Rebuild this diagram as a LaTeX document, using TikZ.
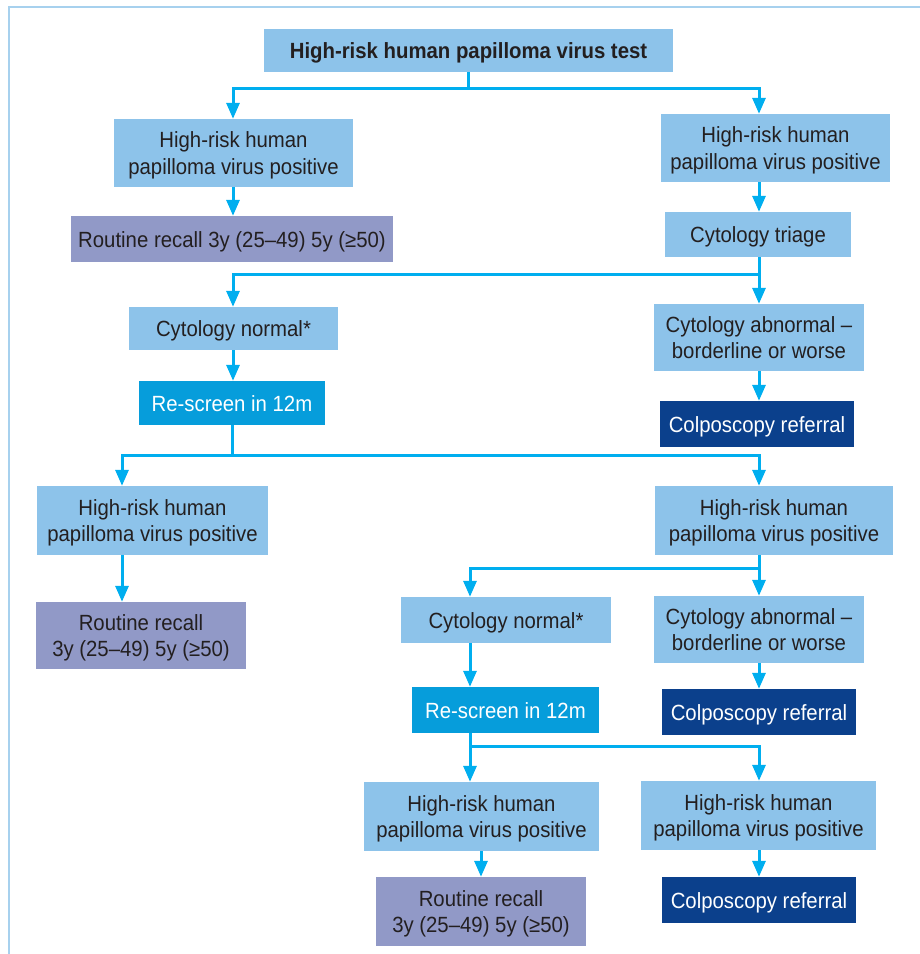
\documentclass[tikz,border=0pt]{standalone}
\usepackage{fontspec}
\setmainfont{Liberation Sans}[FakeStretch=0.925]
\usetikzlibrary{arrows.meta}
\definecolor{lightbox}{HTML}{8DC3EA}
\definecolor{recallbox}{HTML}{9199C7}
\definecolor{rescreenbox}{HTML}{069DDB}
\definecolor{colpobox}{HTML}{0B408C}
\definecolor{connc}{HTML}{00AEEF}
\definecolor{framec}{HTML}{A7D1EE}
\definecolor{txt}{HTML}{231F20}
\newcommand{\mkbox}[7]{\node[#1, minimum width={#4-#3}, minimum height={#6-#5}] (#2) at ({(#3+#4)/2},{(#5+#6)/2}) {\raisebox{-8.1pt}[0pt][0pt]{\begin{tabular}{@{}c@{}}#7\end{tabular}}};}
\begin{document}
\begin{tikzpicture}[x=1pt,y=-1pt,
  basebox/.style={inner sep=0pt, font=\fontsize{22}{26.5}\selectfont},
  hpvbox/.style={basebox, fill=lightbox, text=txt},
  topbox/.style={hpvbox, font=\fontsize{22}{26.5}\selectfont\bfseries},
  recall/.style={basebox, fill=recallbox, text=txt},
  rescreen/.style={basebox, fill=rescreenbox, text=white},
  colpo/.style={basebox, fill=colpobox, text=white},
  cn/.style={draw=connc, line width=3pt},
  ar/.style={cn, -{Triangle[width=13pt,length=16pt]}}]
\useasboundingbox (0,0) rectangle (920,954);
\draw[framec, line width=2pt] (921,7) -- (9,7) -- (9,955);

% boxes
\mkbox{topbox}{top}{264}{673}{29}{72}{High-risk human papilloma virus test}
\mkbox{hpvbox}{L1}{114}{353}{119}{187}{High-risk human\\papilloma virus positive}
\mkbox{hpvbox}{R1}{661}{890}{114}{182}{High-risk human\\papilloma virus positive}
\mkbox{recall}{RR1}{71}{393}{216}{262}{Routine recall 3y (25–49) 5y (≥50)}
\mkbox{hpvbox}{CT}{665}{851}{212}{257}{Cytology triage}
\mkbox{hpvbox}{CN1}{129}{338}{307}{350}{Cytology normal*}
\mkbox{hpvbox}{CA1}{654}{864}{304}{371}{Cytology abnormal –\\borderline or worse}
\mkbox{rescreen}{RS1}{139}{325}{381}{425}{Re-screen in 12m}
\mkbox{colpo}{CR1}{660}{854}{401}{447}{Colposcopy referral}
\mkbox{hpvbox}{L2}{37}{268}{486}{555}{High-risk human\\papilloma virus positive}
\mkbox{hpvbox}{R2}{655}{893}{486}{555}{High-risk human\\papilloma virus positive}
\mkbox{recall}{RR2}{36}{246}{602}{669}{Routine recall\\3y (25–49) 5y (≥50)}
\mkbox{hpvbox}{CN2}{401}{611}{597}{643}{Cytology normal*}
\mkbox{hpvbox}{CA2}{654}{864}{596}{663}{Cytology abnormal –\\borderline or worse}
\mkbox{rescreen}{RS2}{412}{599}{687}{733}{Re-screen in 12m}
\mkbox{colpo}{CR2}{662}{856}{689}{735}{Colposcopy referral}
\mkbox{hpvbox}{L3}{364}{599}{782}{851}{High-risk human\\papilloma virus positive}
\mkbox{hpvbox}{R3}{641}{876}{781}{850}{High-risk human\\papilloma virus positive}
\mkbox{recall}{RR3}{376}{586}{877}{946}{Routine recall\\3y (25–49) 5y (≥50)}
\mkbox{colpo}{CR3}{662}{856}{877}{923}{Colposcopy referral}

% column guides
\coordinate (cR) at (759,0);
\coordinate (cL) at (233,0);
\coordinate (cL2) at (122,0);
\coordinate (cM) at (470,0);
\coordinate (cM2) at (481,0);
% junctions
\coordinate (j1) at (468.5,88);
\coordinate (j2) at (759,274);
\coordinate (j3) at (232,455);
\coordinate (j4) at (759,568);
\coordinate (j5) at (470,746);

% connectors
\draw[cn] (top.south) -- (j1);
\draw[ar] (j1) -| (cL |- L1.north);
\draw[ar] (j1) -| (cR |- R1.north);
\draw[ar] (cL |- L1.south) -- (cL |- RR1.north);
\draw[ar] (cR |- R1.south) -- (cR |- CT.north);
\draw[cn] (cR |- CT.south) -- (j2);
\draw[ar] (j2) -| (cL |- CN1.north);
\draw[ar] (j2) -- (cR |- CA1.north);
\draw[ar] (cR |- CA1.south) -- (cR |- CR1.north);
\draw[ar] (cL |- CN1.south) -- (cL |- RS1.north);
\draw[cn] (RS1.south) -- (j3);
\draw[ar] (j3) -| (cL2 |- L2.north);
\draw[ar] (j3) -| (cR |- R2.north);
\draw[ar] (cL2 |- L2.south) -- (cL2 |- RR2.north);
\draw[cn] (cR |- R2.south) -- (j4);
\draw[ar] (j4) -| (cM |- CN2.north);
\draw[ar] (j4) -- (cR |- CA2.north);
\draw[ar] (cR |- CA2.south) -- (cR |- CR2.north);
\draw[ar] (cM |- CN2.south) -- (cM |- RS2.north);
\draw[cn] (cM |- RS2.south) -- (j5);
\draw[ar] (j5) -- (cM |- L3.north);
\draw[ar] (j5) -| (cR |- R3.north);
\draw[ar] (cM2 |- L3.south) -- (cM2 |- RR3.north);
\draw[ar] (cR |- R3.south) -- (cR |- CR3.north);
\end{tikzpicture}
\end{document}
